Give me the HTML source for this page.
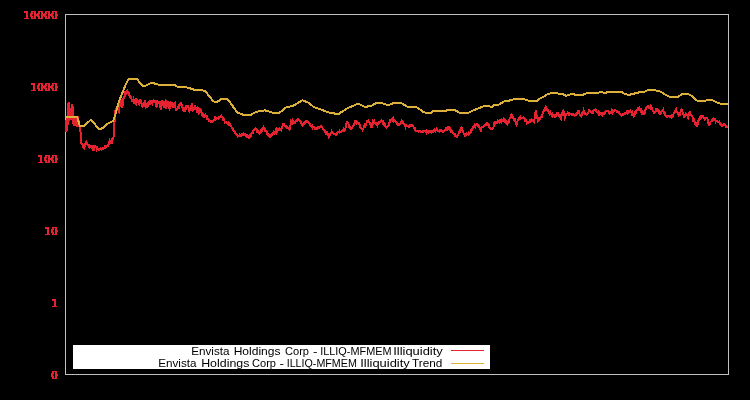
<!DOCTYPE html>
<html><head><meta charset="utf-8"><style>
html,body{margin:0;padding:0;background:#000;}
body{width:750px;height:400px;overflow:hidden;position:relative;}
svg{position:absolute;left:0;top:0;will-change:transform;}
.lab{font-family:"Liberation Mono",monospace;font-weight:bold;font-size:11px;fill:#e8202a;}
.leg{font-family:"Liberation Sans",sans-serif;font-size:10.7px;fill:#000;}
</style></head><body>
<svg width="750" height="400" viewBox="0 0 750 400">
<rect x="0" y="0" width="750" height="400" fill="#000"/>
<g fill="#e62230" shape-rendering="crispEdges"><rect x="24" y="11" width="4" height="2"/><rect x="26" y="13" width="2" height="5"/><rect x="24" y="18" width="5" height="1"/><rect x="31" y="11" width="5" height="1"/><rect x="31" y="18" width="5" height="1"/><rect x="31" y="12" width="1" height="6"/><rect x="32" y="12" width="1" height="2"/><rect x="32" y="16" width="1" height="2"/><rect x="34" y="12" width="2" height="6"/><rect x="30" y="13" width="1" height="4"/><rect x="36" y="14" width="1" height="2"/><rect x="32" y="14" width="1" height="2" fill-opacity="0.4"/><rect x="38" y="11" width="5" height="1"/><rect x="38" y="18" width="5" height="1"/><rect x="38" y="12" width="1" height="6"/><rect x="39" y="12" width="1" height="2"/><rect x="39" y="16" width="1" height="2"/><rect x="41" y="12" width="2" height="6"/><rect x="37" y="13" width="1" height="4"/><rect x="43" y="14" width="1" height="2"/><rect x="39" y="14" width="1" height="2" fill-opacity="0.4"/><rect x="45" y="11" width="5" height="1"/><rect x="45" y="18" width="5" height="1"/><rect x="45" y="12" width="1" height="6"/><rect x="46" y="12" width="1" height="2"/><rect x="46" y="16" width="1" height="2"/><rect x="48" y="12" width="2" height="6"/><rect x="44" y="13" width="1" height="4"/><rect x="50" y="14" width="1" height="2"/><rect x="46" y="14" width="1" height="2" fill-opacity="0.4"/><rect x="52" y="11" width="5" height="1"/><rect x="52" y="18" width="5" height="1"/><rect x="52" y="12" width="1" height="6"/><rect x="53" y="12" width="1" height="2"/><rect x="53" y="16" width="1" height="2"/><rect x="55" y="12" width="2" height="6"/><rect x="51" y="13" width="1" height="4"/><rect x="57" y="14" width="1" height="2"/><rect x="53" y="14" width="1" height="2" fill-opacity="0.4"/><rect x="31" y="83" width="4" height="2"/><rect x="33" y="85" width="2" height="5"/><rect x="31" y="90" width="5" height="1"/><rect x="38" y="83" width="5" height="1"/><rect x="38" y="90" width="5" height="1"/><rect x="38" y="84" width="1" height="6"/><rect x="39" y="84" width="1" height="2"/><rect x="39" y="88" width="1" height="2"/><rect x="41" y="84" width="2" height="6"/><rect x="37" y="85" width="1" height="4"/><rect x="43" y="86" width="1" height="2"/><rect x="39" y="86" width="1" height="2" fill-opacity="0.4"/><rect x="45" y="83" width="5" height="1"/><rect x="45" y="90" width="5" height="1"/><rect x="45" y="84" width="1" height="6"/><rect x="46" y="84" width="1" height="2"/><rect x="46" y="88" width="1" height="2"/><rect x="48" y="84" width="2" height="6"/><rect x="44" y="85" width="1" height="4"/><rect x="50" y="86" width="1" height="2"/><rect x="46" y="86" width="1" height="2" fill-opacity="0.4"/><rect x="52" y="83" width="5" height="1"/><rect x="52" y="90" width="5" height="1"/><rect x="52" y="84" width="1" height="6"/><rect x="53" y="84" width="1" height="2"/><rect x="53" y="88" width="1" height="2"/><rect x="55" y="84" width="2" height="6"/><rect x="51" y="85" width="1" height="4"/><rect x="57" y="86" width="1" height="2"/><rect x="53" y="86" width="1" height="2" fill-opacity="0.4"/><rect x="38" y="155" width="4" height="2"/><rect x="40" y="157" width="2" height="5"/><rect x="38" y="162" width="5" height="1"/><rect x="45" y="155" width="5" height="1"/><rect x="45" y="162" width="5" height="1"/><rect x="45" y="156" width="1" height="6"/><rect x="46" y="156" width="1" height="2"/><rect x="46" y="160" width="1" height="2"/><rect x="48" y="156" width="2" height="6"/><rect x="44" y="157" width="1" height="4"/><rect x="50" y="158" width="1" height="2"/><rect x="46" y="158" width="1" height="2" fill-opacity="0.4"/><rect x="52" y="155" width="5" height="1"/><rect x="52" y="162" width="5" height="1"/><rect x="52" y="156" width="1" height="6"/><rect x="53" y="156" width="1" height="2"/><rect x="53" y="160" width="1" height="2"/><rect x="55" y="156" width="2" height="6"/><rect x="51" y="157" width="1" height="4"/><rect x="57" y="158" width="1" height="2"/><rect x="53" y="158" width="1" height="2" fill-opacity="0.4"/><rect x="45" y="227" width="4" height="2"/><rect x="47" y="229" width="2" height="5"/><rect x="45" y="234" width="5" height="1"/><rect x="52" y="227" width="5" height="1"/><rect x="52" y="234" width="5" height="1"/><rect x="52" y="228" width="1" height="6"/><rect x="53" y="228" width="1" height="2"/><rect x="53" y="232" width="1" height="2"/><rect x="55" y="228" width="2" height="6"/><rect x="51" y="229" width="1" height="4"/><rect x="57" y="230" width="1" height="2"/><rect x="53" y="230" width="1" height="2" fill-opacity="0.4"/><rect x="52" y="299" width="4" height="2"/><rect x="54" y="301" width="2" height="5"/><rect x="52" y="306" width="5" height="1"/><rect x="52" y="371" width="5" height="1"/><rect x="52" y="378" width="5" height="1"/><rect x="52" y="372" width="1" height="6"/><rect x="53" y="372" width="1" height="2"/><rect x="53" y="376" width="1" height="2"/><rect x="55" y="372" width="2" height="6"/><rect x="51" y="373" width="1" height="4"/><rect x="57" y="374" width="1" height="2"/><rect x="53" y="374" width="1" height="2" fill-opacity="0.4"/></g>
<rect x="65.5" y="14.5" width="663" height="360" fill="none" stroke="#c0c0c0" stroke-width="1"/>
<polyline points="66.0,120.0 66.5,132.0 67.0,118.0 67.5,126.0 68.0,103.0 68.5,122.0 69.0,102.0 69.5,118.0 70.0,110.0 70.5,117.0 71.0,108.0 71.5,120.0 72.0,104.0 72.5,118.0 73.0,106.0 73.5,124.0 74.0,116.0 74.5,126.0 75.0,118.0 75.5,125.0 76.0,116.0 76.5,126.0 77.0,118.0 77.5,127.0 78.0,116.0 78.5,122.0 79.0,120.0 79.5,127.0 80.0,125.0 80.5,132.0 81.0,140.0 81.5,144.0 82.0,143.8 82.5,145.1 83.1,147.0 83.6,146.0 84.2,147.8 84.7,146.7 85.3,143.7 85.8,142.6 86.4,141.7 86.9,144.0 87.5,144.3 88.0,145.4 88.6,146.2 89.1,147.2 89.7,145.3 90.2,145.5 90.8,146.5 91.3,147.2 91.9,146.2 92.4,146.5 93.0,148.9 93.5,147.3 94.1,148.6 94.6,146.4 95.2,145.8 95.7,146.3 96.3,147.3 96.8,149.2 97.4,148.0 97.9,149.4 98.5,150.0 99.0,149.7 99.6,149.9 100.1,148.5 100.7,148.3 101.2,148.5 101.8,149.5 102.3,148.6 102.9,148.1 103.4,148.5 104.0,147.9 104.5,147.2 105.1,148.2 105.6,147.5 106.2,145.8 106.7,146.2 107.3,145.6 107.8,146.1 108.4,144.9 108.9,142.8 109.5,143.6 110.0,140.5 110.6,141.3 111.1,142.2 111.7,140.6 112.2,141.5 112.8,139.3 113.3,139.0 113.9,132.8 114.4,123.4 115.0,117.8 115.5,110.1 116.1,111.0 116.6,107.1 117.2,107.0 117.7,105.5 118.3,109.9 118.8,110.9 119.4,105.0 119.9,107.0 120.5,99.0 121.0,105.8 121.6,104.4 122.1,107.6 122.7,104.5 123.2,98.5 123.8,97.9 124.3,98.1 124.9,93.9 125.4,94.9 126.0,92.4 126.5,91.6 127.1,90.8 127.6,93.6 128.2,90.8 128.7,92.8 129.3,94.9 129.8,98.2 130.4,95.2 130.9,97.7 131.5,98.7 132.0,100.8 132.6,100.9 133.1,101.6 133.7,99.3 134.2,100.4 134.8,100.6 135.3,103.5 135.9,104.1 136.4,99.4 137.0,99.9 137.5,100.6 138.1,100.9 138.6,103.0 139.2,103.9 139.8,101.4 140.3,99.4 140.9,102.8 141.4,102.4 142.0,104.1 142.5,107.3 143.1,105.2 143.6,103.9 144.2,104.8 144.7,105.4 145.3,100.4 145.8,107.2 146.4,106.3 146.9,107.1 147.5,106.5 148.0,103.2 148.6,103.3 149.1,101.0 149.7,105.2 150.2,100.7 150.8,100.7 151.3,101.9 151.9,101.5 152.4,103.0 153.0,100.7 153.5,100.3 154.1,101.5 154.6,101.1 155.2,103.2 155.7,100.6 156.3,107.4 156.8,105.3 157.4,101.6 157.9,102.4 158.5,103.2 159.0,103.4 159.6,101.5 160.1,107.3 160.7,108.5 161.2,104.3 161.8,104.5 162.3,101.3 162.9,101.5 163.4,103.5 164.0,102.9 164.5,107.4 165.1,102.1 165.6,101.1 166.2,108.5 166.7,105.2 167.3,102.2 167.8,105.4 168.4,101.3 168.9,105.3 169.5,109.0 170.0,108.1 170.6,106.8 171.1,103.3 171.7,104.2 172.2,102.6 172.8,107.5 173.3,105.6 173.9,107.7 174.4,104.1 175.0,103.3 175.5,108.1 176.1,109.6 176.6,108.6 177.2,108.4 177.7,108.6 178.3,108.1 178.8,104.1 179.4,106.5 179.9,105.3 180.5,102.8 181.0,102.9 181.6,105.0 182.1,105.0 182.7,108.6 183.2,110.8 183.8,106.8 184.3,110.9 184.9,111.4 185.4,111.2 186.0,106.6 186.5,105.6 187.1,105.7 187.6,105.6 188.2,105.8 188.7,109.2 189.3,111.4 189.8,110.6 190.4,107.5 190.9,108.6 191.5,109.5 192.0,103.5 192.6,108.1 193.1,110.3 193.7,109.5 194.2,109.4 194.8,107.4 195.3,105.2 195.9,110.3 196.4,106.9 197.0,110.8 197.5,112.4 198.1,108.0 198.6,108.3 199.2,113.0 199.7,112.1 200.3,109.5 200.8,110.1 201.4,111.1 201.9,115.5 202.5,115.7 203.0,112.7 203.6,116.1 204.1,117.0 204.7,115.7 205.2,114.9 205.8,116.0 206.3,115.7 206.9,116.0 207.4,118.8 208.0,118.7 208.5,119.1 209.1,120.6 209.6,120.1 210.2,121.7 210.7,122.2 211.3,121.5 211.8,122.2 212.4,122.0 212.9,121.1 213.5,121.0 214.0,119.5 214.6,119.0 215.1,117.7 215.7,119.2 216.2,117.8 216.8,117.9 217.3,118.0 217.9,118.5 218.4,117.3 219.0,118.2 219.5,117.1 220.1,117.0 220.6,116.8 221.2,115.5 221.7,116.7 222.3,117.0 222.8,117.5 223.4,120.1 223.9,119.6 224.5,121.1 225.0,122.5 225.6,122.4 226.1,122.2 226.7,122.9 227.2,123.2 227.8,124.0 228.3,122.8 228.9,124.1 229.4,123.6 230.0,124.0 230.5,125.9 231.1,126.2 231.6,127.2 232.2,128.5 232.7,129.7 233.3,129.5 233.8,130.7 234.4,131.3 234.9,132.2 235.5,133.5 236.0,133.8 236.6,134.9 237.1,135.4 237.7,136.4 238.2,135.8 238.8,136.1 239.3,136.2 239.9,134.6 240.4,135.2 241.0,136.0 241.5,135.7 242.1,134.1 242.6,134.0 243.2,134.6 243.7,133.7 244.3,134.0 244.8,133.6 245.4,135.1 245.9,135.8 246.5,136.5 247.0,135.2 247.6,136.9 248.1,137.2 248.7,136.5 249.2,138.0 249.8,137.4 250.3,134.9 250.9,135.7 251.4,133.7 252.0,133.0 252.5,133.3 253.1,132.2 253.6,129.9 254.2,129.6 254.7,129.0 255.3,128.5 255.8,128.8 256.4,129.8 256.9,131.3 257.5,130.4 258.0,132.3 258.6,132.7 259.1,132.5 259.7,133.4 260.2,133.0 260.8,131.7 261.3,129.7 261.9,130.7 262.4,129.2 263.0,128.6 263.5,127.3 264.1,128.3 264.6,128.5 265.2,130.9 265.7,130.5 266.3,130.9 266.8,132.2 267.4,134.0 267.9,134.5 268.5,134.0 269.0,134.4 269.6,136.8 270.1,136.6 270.7,136.4 271.2,134.5 271.8,134.0 272.3,134.8 272.9,133.8 273.4,132.5 274.0,133.9 274.5,132.7 275.1,132.6 275.6,130.6 276.2,131.9 276.7,129.7 277.3,131.0 277.8,129.7 278.4,129.0 278.9,129.1 279.5,129.5 280.0,128.5 280.6,128.7 281.1,129.8 281.7,128.0 282.2,126.5 282.8,125.4 283.3,124.0 283.9,124.2 284.4,125.0 285.0,125.5 285.5,127.1 286.1,126.6 286.6,127.6 287.2,127.4 287.7,128.4 288.3,128.3 288.8,129.5 289.4,129.7 289.9,129.1 290.5,125.4 291.0,121.3 291.6,121.9 292.1,123.0 292.7,121.1 293.2,122.7 293.8,121.9 294.3,122.0 294.9,122.7 295.4,121.4 296.0,121.1 296.5,120.9 297.1,121.0 297.6,119.1 298.2,119.6 298.7,119.4 299.3,120.3 299.8,120.9 300.4,121.9 300.9,122.3 301.5,123.6 302.0,124.6 302.6,125.5 303.1,123.9 303.7,123.1 304.2,122.4 304.8,123.5 305.3,123.0 305.9,122.0 306.4,120.6 307.0,120.9 307.5,121.5 308.1,122.4 308.6,122.2 309.2,123.4 309.7,123.5 310.3,125.5 310.8,126.1 311.4,125.7 311.9,125.5 312.5,127.6 313.0,126.7 313.6,127.3 314.1,127.1 314.7,128.4 315.2,128.9 315.8,128.8 316.3,128.0 316.9,128.5 317.4,127.2 318.0,127.6 318.5,127.1 319.1,127.6 319.6,126.7 320.2,126.5 320.7,126.9 321.3,126.6 321.8,127.2 322.4,127.5 322.9,128.8 323.5,129.3 324.0,130.2 324.6,131.3 325.1,131.0 325.7,131.6 326.2,133.8 326.8,132.7 327.3,134.7 327.9,135.3 328.4,134.7 329.0,137.2 329.5,136.2 330.1,134.4 330.6,133.4 331.2,132.8 331.7,131.6 332.3,132.7 332.8,132.9 333.4,133.9 333.9,134.1 334.5,134.4 335.0,134.2 335.6,135.1 336.1,134.8 336.7,134.4 337.2,132.9 337.8,132.0 338.3,131.8 338.9,131.8 339.4,131.0 340.0,132.4 340.5,131.6 341.1,131.6 341.6,131.4 342.2,131.3 342.7,130.7 343.3,129.5 343.8,131.1 344.4,130.8 344.9,130.0 345.5,128.2 346.0,126.1 346.6,122.5 347.1,122.2 347.7,122.4 348.2,123.2 348.8,124.8 349.3,127.0 349.9,127.0 350.4,128.5 351.0,129.0 351.5,128.0 352.1,127.6 352.6,126.8 353.2,126.3 353.7,125.4 354.3,124.1 354.8,123.1 355.4,120.8 355.9,121.0 356.5,121.5 357.0,122.9 357.6,122.3 358.1,123.3 358.7,122.9 359.2,123.9 359.8,125.2 360.3,127.0 360.9,127.9 361.4,128.7 362.0,128.7 362.5,130.0 363.1,128.9 363.6,127.9 364.2,126.2 364.7,126.9 365.3,124.3 365.8,125.1 366.4,124.0 366.9,120.9 367.5,120.9 368.0,120.7 368.6,122.1 369.1,122.0 369.7,122.6 370.2,123.5 370.8,126.1 371.3,125.6 371.9,127.4 372.4,124.1 373.0,121.4 373.5,122.4 374.1,121.1 374.6,123.1 375.2,122.9 375.7,124.2 376.3,124.3 376.8,123.7 377.4,125.1 377.9,123.7 378.5,122.3 379.0,121.8 379.6,122.4 380.1,121.9 380.7,121.1 381.2,120.3 381.8,120.4 382.3,120.6 382.9,122.8 383.4,122.0 384.0,124.6 384.5,125.8 385.1,125.2 385.6,127.1 386.2,126.9 386.7,127.5 387.3,126.3 387.8,126.7 388.4,125.6 388.9,125.2 389.5,122.5 390.0,120.2 390.6,120.1 391.1,119.5 391.7,118.7 392.2,118.5 392.8,119.9 393.3,118.9 393.9,120.9 394.4,120.0 395.0,120.6 395.5,121.8 396.1,121.7 396.6,122.7 397.2,124.6 397.7,125.0 398.3,125.0 398.8,124.3 399.4,124.6 399.9,124.3 400.5,123.1 401.0,123.2 401.6,121.4 402.1,122.6 402.7,121.6 403.2,122.5 403.8,123.5 404.3,124.0 404.9,124.7 405.4,126.9 406.0,125.2 406.5,125.9 407.1,125.7 407.6,125.6 408.2,126.5 408.7,127.0 409.3,125.5 409.8,126.3 410.4,125.6 410.9,126.1 411.5,125.8 412.0,125.3 412.6,125.3 413.1,125.5 413.7,127.8 414.2,127.6 414.8,127.8 415.3,130.1 415.9,131.0 416.4,130.6 417.0,130.6 417.5,130.8 418.1,130.6 418.6,131.2 419.2,130.6 419.7,130.9 420.3,131.0 420.8,131.7 421.4,132.4 421.9,132.1 422.5,131.4 423.0,131.4 423.6,131.6 424.1,131.3 424.7,131.2 425.2,130.6 425.8,131.1 426.3,132.6 426.9,130.8 427.4,131.6 428.0,131.9 428.5,132.5 429.1,131.0 429.6,131.2 430.2,131.1 430.7,131.5 431.3,131.4 431.8,132.3 432.4,131.9 432.9,131.8 433.5,129.8 434.0,129.6 434.6,130.9 435.1,131.2 435.7,130.1 436.2,130.2 436.8,129.0 437.3,129.9 437.9,131.2 438.4,131.1 439.0,131.2 439.5,131.5 440.1,130.0 440.6,129.8 441.2,130.0 441.7,130.9 442.3,131.3 442.8,131.9 443.4,131.3 443.9,130.8 444.5,130.7 445.0,129.7 445.6,129.6 446.1,128.2 446.7,129.5 447.2,128.0 447.8,129.2 448.3,128.2 448.9,127.2 449.4,127.4 450.0,128.6 450.5,130.4 451.1,131.5 451.6,130.8 452.2,131.3 452.7,132.9 453.3,133.6 453.8,133.8 454.4,134.0 454.9,135.5 455.5,134.8 456.0,136.0 456.6,136.8 457.1,136.9 457.7,135.2 458.2,134.8 458.8,132.9 459.3,131.4 459.9,130.4 460.4,131.0 461.0,129.4 461.5,127.6 462.1,128.3 462.6,130.7 463.2,132.5 463.7,133.3 464.3,134.3 464.8,135.7 465.4,136.0 465.9,134.3 466.5,133.6 467.0,134.0 467.6,133.9 468.1,134.3 468.7,132.9 469.2,134.0 469.8,133.6 470.3,132.5 470.9,130.9 471.4,131.6 472.0,129.2 472.5,129.3 473.1,127.1 473.6,126.1 474.2,126.5 474.7,125.3 475.3,126.5 475.8,125.3 476.4,124.4 476.9,124.3 477.5,124.5 478.0,124.9 478.6,127.0 479.1,126.7 479.7,128.8 480.2,129.2 480.8,130.3 481.3,127.9 481.9,127.2 482.4,126.6 483.0,126.8 483.5,127.1 484.1,126.3 484.6,125.1 485.2,125.1 485.7,124.9 486.3,123.6 486.8,123.3 487.4,125.0 487.9,124.5 488.5,124.0 489.0,126.6 489.6,127.2 490.1,128.3 490.7,128.6 491.2,128.7 491.8,128.7 492.3,128.8 492.9,127.7 493.4,127.7 494.0,124.6 494.5,125.2 495.1,122.3 495.6,122.4 496.2,123.2 496.7,123.0 497.3,122.0 497.8,120.9 498.4,121.6 498.9,121.2 499.5,122.1 500.0,120.3 500.6,120.6 501.1,121.6 501.7,119.6 502.2,120.3 502.8,121.0 503.3,120.8 503.9,119.0 504.4,119.4 505.0,120.1 505.5,122.6 506.1,121.8 506.6,123.5 507.2,124.5 507.7,123.2 508.3,121.7 508.8,121.9 509.4,119.9 509.9,117.8 510.5,117.5 511.0,115.3 511.6,114.1 512.1,114.5 512.7,117.1 513.2,118.5 513.8,118.8 514.3,120.5 514.9,119.5 515.4,120.9 516.0,122.5 516.5,124.5 517.1,123.3 517.6,120.8 518.2,119.3 518.7,118.5 519.3,117.9 519.8,118.7 520.4,117.0 520.9,118.2 521.5,117.9 522.0,118.0 522.6,117.7 523.1,117.4 523.7,117.5 524.2,118.3 524.8,119.1 525.3,120.8 525.9,120.1 526.4,121.1 527.0,123.1 527.5,122.7 528.1,123.0 528.6,122.0 529.2,122.2 529.7,120.8 530.3,121.3 530.8,120.2 531.4,120.5 531.9,119.7 532.5,120.0 533.0,120.8 533.6,122.4 534.1,122.7 534.7,117.7 535.2,112.8 535.8,111.8 536.3,114.3 536.9,116.5 537.4,118.8 538.0,121.1 538.5,120.3 539.1,118.5 539.6,119.4 540.2,117.6 540.7,117.6 541.3,116.6 541.8,116.7 542.4,114.4 542.9,113.1 543.5,111.7 544.0,110.1 544.6,110.3 545.1,108.2 545.7,106.8 546.2,107.7 546.8,109.8 547.3,109.4 547.9,109.5 548.4,111.5 549.0,111.9 549.5,113.4 550.1,112.2 550.6,113.5 551.2,114.7 551.7,115.2 552.3,115.9 552.8,114.4 553.4,115.5 553.9,115.6 554.5,115.4 555.0,116.7 555.6,115.3 556.1,115.6 556.7,113.9 557.2,114.5 557.8,113.1 558.3,113.1 558.9,115.3 559.4,116.8 560.0,116.0 560.5,118.2 561.1,119.0 561.6,115.7 562.2,113.5 562.7,110.6 563.3,110.3 563.8,112.7 564.4,115.6 564.9,117.9 565.5,116.2 566.0,114.4 566.6,113.7 567.1,113.4 567.7,112.6 568.2,113.2 568.8,113.2 569.3,114.8 569.9,114.5 570.4,113.6 571.0,113.8 571.5,114.6 572.1,115.0 572.6,115.3 573.2,114.2 573.7,114.5 574.3,115.8 574.8,115.3 575.4,114.6 575.9,113.9 576.5,114.6 577.0,112.5 577.6,112.4 578.1,111.2 578.7,111.2 579.2,113.5 579.8,115.1 580.3,115.0 580.9,116.0 581.4,116.5 582.0,113.9 582.5,112.0 583.1,112.6 583.6,110.5 584.2,112.3 584.7,112.3 585.3,114.3 585.8,114.2 586.4,114.5 586.9,113.6 587.5,113.5 588.0,112.5 588.6,111.9 589.1,109.2 589.7,111.1 590.2,111.3 590.8,112.3 591.3,112.3 591.9,113.3 592.4,113.2 593.0,113.0 593.5,110.1 594.1,109.9 594.6,109.8 595.2,110.6 595.7,109.4 596.3,109.7 596.8,111.9 597.4,112.5 597.9,111.9 598.5,111.3 599.0,113.6 599.6,112.7 600.1,114.2 600.7,113.9 601.2,114.7 601.8,113.6 602.3,114.9 602.9,113.3 603.4,113.3 604.0,113.9 604.5,113.5 605.0,111.7 605.6,111.4 606.1,111.4 606.7,111.2 607.2,110.9 607.8,110.7 608.3,111.3 608.9,112.8 609.4,113.5 610.0,112.0 610.5,112.8 611.1,113.0 611.6,111.1 612.2,112.5 612.7,110.7 613.3,111.4 613.8,111.0 614.4,110.9 614.9,109.9 615.5,109.8 616.0,110.6 616.6,110.8 617.1,111.7 617.7,111.7 618.2,112.2 618.8,111.7 619.3,113.5 619.9,113.7 620.4,113.6 621.0,115.2 621.5,115.7 622.1,115.4 622.6,114.5 623.2,114.8 623.7,113.8 624.3,113.5 624.8,113.9 625.4,112.9 625.9,113.4 626.5,113.3 627.0,112.0 627.6,113.0 628.1,111.5 628.7,112.7 629.2,112.5 629.8,111.6 630.3,110.9 630.9,112.4 631.4,112.7 632.0,114.5 632.5,113.2 633.1,115.4 633.6,116.2 634.2,115.6 634.7,114.7 635.3,112.2 635.8,112.9 636.4,110.7 636.9,110.6 637.5,109.4 638.0,106.8 638.6,108.8 639.1,109.7 639.7,108.4 640.2,109.6 640.8,111.1 641.3,110.4 641.9,112.6 642.4,111.8 643.0,113.6 643.5,112.7 644.1,113.7 644.6,113.2 645.2,110.2 645.7,108.9 646.3,108.0 646.8,107.0 647.4,106.3 647.9,106.4 648.5,106.3 649.0,107.8 649.6,107.1 650.1,107.5 650.7,106.1 651.2,108.3 651.8,107.8 652.3,109.6 652.9,110.7 653.4,111.0 654.0,113.0 654.5,113.0 655.1,112.1 655.6,111.8 656.2,109.1 656.7,110.0 657.3,109.3 657.8,109.7 658.4,111.5 658.9,111.2 659.5,113.7 660.0,113.6 660.6,112.6 661.1,112.9 661.7,111.7 662.2,110.5 662.8,111.2 663.3,110.1 663.9,112.7 664.4,112.3 665.0,114.1 665.5,115.7 666.1,115.7 666.6,116.8 667.2,116.6 667.7,115.8 668.3,115.8 668.8,115.9 669.4,116.9 669.9,116.4 670.5,116.4 671.0,117.2 671.6,115.4 672.1,115.5 672.7,116.4 673.2,114.4 673.8,113.3 674.3,113.0 674.9,111.3 675.4,110.8 676.0,109.4 676.5,111.3 677.1,112.4 677.6,112.6 678.2,114.7 678.7,115.4 679.3,114.5 679.8,115.0 680.4,112.2 680.9,110.7 681.5,109.3 682.0,109.5 682.6,112.0 683.1,113.8 683.7,114.9 684.2,116.6 684.8,115.9 685.3,115.5 685.9,113.5 686.4,113.6 687.0,115.3 687.5,116.0 688.1,117.7 688.6,115.8 689.2,113.2 689.7,114.3 690.3,113.3 690.8,115.2 691.4,115.8 691.9,116.3 692.5,116.9 693.0,119.5 693.6,118.8 694.1,121.0 694.7,122.8 695.2,122.1 695.8,123.2 696.3,125.1 696.9,125.8 697.4,125.0 698.0,123.7 698.5,120.6 699.1,119.3 699.6,117.9 700.2,116.9 700.7,118.3 701.3,117.6 701.8,117.0 702.4,115.0 702.9,117.4 703.5,117.9 704.0,118.1 704.6,119.5 705.1,119.3 705.7,118.4 706.2,117.7 706.8,117.6 707.3,118.1 707.9,120.6 708.4,123.3 709.0,124.9 709.5,124.5 710.1,123.4 710.6,121.7 711.2,121.5 711.7,120.6 712.3,120.8 712.8,119.7 713.4,118.6 713.9,118.9 714.5,119.0 715.0,118.8 715.6,121.8 716.1,120.9 716.7,121.2 717.2,121.0 717.8,121.9 718.3,122.2 718.9,121.6 719.4,121.4 720.0,123.5 720.5,123.2 721.1,123.9 721.6,126.3 722.2,126.0 722.7,125.2 723.3,124.2 723.8,124.9 724.4,124.2 724.9,125.5 725.5,125.7 726.0,126.6 726.6,126.1 727.1,127.2 727.7,127.4" fill="none" stroke="#e62230" stroke-width="2" shape-rendering="crispEdges"/>
<polyline points="65.5,117.0 77.3,117.2 79.8,126.3 83.2,126.3 90.7,120.0 94.0,123.0 99.0,129.3 102.3,128.3 107.3,123.8 113.2,121.0 114.8,116.3 119.0,101.3 123.5,90.0 126.0,84.0 128.0,80.0 129.5,78.5 131.0,78.5 133.0,79.5 135.0,78.5 137.0,79.0 140.0,83.0 143.0,86.0 146.0,85.5 151.5,82.7 159.0,84.7 174.0,84.7 179.0,87.5 184.0,86.8 189.0,88.0 195.7,90.3 201.5,89.7 205.7,91.7 213.5,101.5 217.0,102.0 221.5,99.0 225.0,98.5 228.0,99.5 237.3,112.5 242.3,114.5 250.7,115.0 255.7,112.0 264.8,110.3 274.0,113.0 279.8,112.5 285.7,107.5 293.2,105.8 302.3,100.3 308.2,102.5 314.0,107.2 322.3,110.0 329.0,112.5 338.2,114.2 347.3,108.3 358.2,103.7 364.8,107.0 371.5,105.8 377.3,102.5 382.3,103.3 388.2,105.3 394.0,102.8 400.7,102.8 407.3,106.7 415.7,106.7 420.0,109.5 423.0,112.0 427.0,113.0 431.0,113.0 433.0,111.0 440.0,110.5 444.0,111.0 449.0,110.0 455.0,110.0 458.0,112.0 460.0,113.0 468.0,113.0 472.0,111.0 478.0,108.5 484.0,106.0 487.0,105.5 492.0,107.0 495.0,104.5 499.0,104.5 504.0,101.5 508.0,101.0 511.0,100.0 517.0,98.5 520.0,99.5 523.0,98.5 526.0,100.0 530.0,101.0 537.0,101.0 540.0,98.5 543.0,97.0 548.0,94.0 552.0,93.0 557.0,93.0 559.0,94.0 563.0,94.0 566.0,96.0 570.0,94.5 573.0,93.5 575.0,95.0 582.0,95.5 584.0,94.0 588.0,93.0 592.0,92.5 598.0,93.0 601.0,91.5 603.0,92.5 606.0,93.0 608.0,91.5 621.0,91.5 625.0,94.0 629.0,95.0 632.0,94.0 637.0,93.0 640.0,92.0 645.0,91.5 649.0,89.5 653.0,90.0 659.0,91.0 661.0,92.0 666.0,95.0 670.0,97.0 678.0,97.0 682.0,94.0 684.0,93.5 688.0,94.0 692.0,96.0 697.0,100.5 705.0,101.0 707.0,100.0 712.0,100.0 716.0,102.0 721.0,104.0 728.0,104.0" fill="none" stroke="#dcb03a" stroke-width="2" shape-rendering="crispEdges"/>
<rect x="73" y="345" width="417" height="24" fill="#fff"/>
<text class="leg" x="191.20" y="355" textLength="38.34" lengthAdjust="spacingAndGlyphs">Envista</text><text class="leg" x="233.70" y="355" textLength="46.82" lengthAdjust="spacingAndGlyphs">Holdings</text><text class="leg" x="285.00" y="355" textLength="24.00" lengthAdjust="spacingAndGlyphs">Corp</text><text class="leg" x="313.00" y="355" textLength="4.50" lengthAdjust="spacingAndGlyphs">-</text><text class="leg" x="320.20" y="355" textLength="71.40" lengthAdjust="spacingAndGlyphs">ILLIQ-MFMEM</text><text class="leg" x="393.18" y="355" textLength="49.65" lengthAdjust="spacingAndGlyphs">Illiquidity</text><text class="leg" x="158.20" y="367" textLength="38.34" lengthAdjust="spacingAndGlyphs">Envista</text><text class="leg" x="201.20" y="367" textLength="48.16" lengthAdjust="spacingAndGlyphs">Holdings</text><text class="leg" x="252.00" y="367" textLength="24.00" lengthAdjust="spacingAndGlyphs">Corp</text><text class="leg" x="279.50" y="367" textLength="4.50" lengthAdjust="spacingAndGlyphs">-</text><text class="leg" x="286.70" y="367" textLength="70.14" lengthAdjust="spacingAndGlyphs">ILLIQ-MFMEM</text><text class="leg" x="360.20" y="367" textLength="49.62" lengthAdjust="spacingAndGlyphs">Illiquidity</text><text class="leg" x="412.00" y="367" textLength="30.30" lengthAdjust="spacingAndGlyphs">Trend</text>
<line x1="451" y1="350.5" x2="484" y2="350.5" stroke="#e62230" stroke-width="1"/>
<line x1="451" y1="363.5" x2="484" y2="363.5" stroke="#dcb03a" stroke-width="1"/>
</svg>
</body></html>
